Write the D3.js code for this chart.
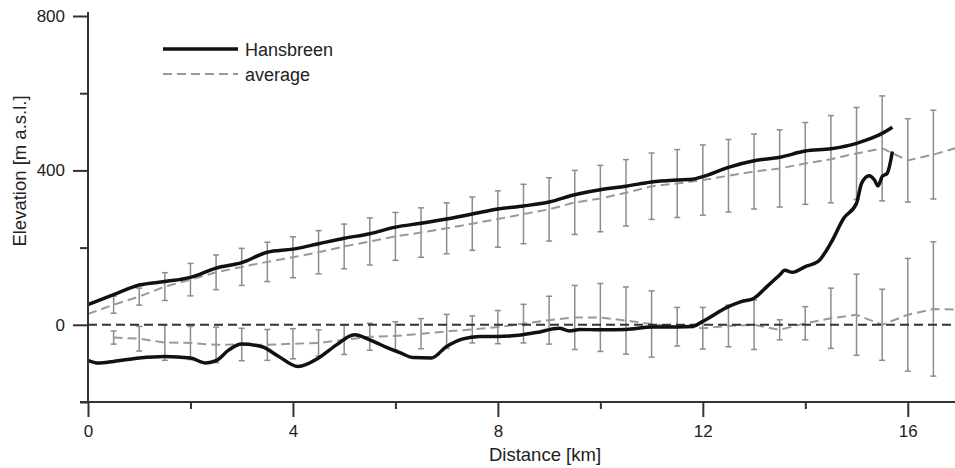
<!DOCTYPE html>
<html>
<head>
<meta charset="utf-8">
<script src="https://cdn.jsdelivr.net/npm/d3@7"></script>
<style>
  body { margin: 0; background: #fff; }
  text { font-family: "Liberation Sans", Arial, sans-serif; fill: #222; }
</style>
</head>
<body>
<svg id="chart"></svg>
<script>
// Hansbreen surface profile [km, m a.s.l.]
const surfaceKm = [0, 0.5, 1, 1.5, 2, 2.5, 3, 3.5, 4, 4.5, 5, 5.5, 6, 6.5, 7, 7.5, 8, 8.5, 9, 9.5, 10, 10.5, 11, 11.5, 11.8, 12, 12.5, 13, 13.5, 14, 14.5, 15, 15.2, 15.5, 15.7];
const surfaceElev = [52, 78, 103, 112, 123, 147, 161, 188, 196, 210, 224, 236, 253, 263, 274, 287, 300, 308, 318, 337, 350, 359, 370, 375, 377, 384, 408, 425, 434, 450, 456, 470, 479, 496, 512];

// Hansbreen bed profile
const bedKm = [0, 0.2, 0.5, 1, 1.5, 2, 2.3, 2.5, 2.75, 3, 3.4, 3.7, 4.1, 4.5, 4.85, 5.2, 5.5, 5.85, 6.1, 6.35, 6.7, 7, 7.3, 7.65, 8, 8.35, 8.75, 9.2, 9.4, 9.6, 10, 10.5, 11, 11.5, 11.8, 12, 12.5, 12.75, 13, 13.25, 13.5, 13.6, 13.75, 14, 14.25, 14.5, 14.75, 15, 15.1, 15.25, 15.35, 15.42, 15.5, 15.6, 15.7];
const bedElev = [-92, -99, -95, -86, -82, -86, -99, -93, -65, -50, -57, -80, -108, -86, -52, -26, -39, -60, -73, -85, -86, -56, -37, -30, -30, -28, -20, -9, -16, -12, -13, -12, -6, -6, -4, 9, 47, 60, 69, 99, 129, 141, 136, 151, 164, 212, 276, 315, 367, 386, 375, 360, 384, 393, 449];

// average surface of other glaciers (0 .. 17 km, every 0.5 km)
const avgTopKm = d3.range(0, 17.01, 0.5);
const avgTop = [28, 52, 73, 99, 117, 136, 150, 163, 175, 188, 203, 216, 229, 239, 250, 262, 274, 287, 299, 317, 327, 342, 359, 366, 375, 386, 397, 405, 418, 429, 444, 457, 426, 441, 460];
// standard deviation of the surface (0.5 .. 16.5 km)
const sdTop = [22, 22, 36, 42, 45, 48, 51, 53, 56, 58, 61, 62, 64, 66, 69, 73, 77, 82, 83, 86, 86, 86, 88, 91, 94, 97, 100, 106, 113, 119, 136, 108, 115];

// average bed (0.5 .. 17 km)
const avgBedKm = d3.range(0.5, 17.01, 0.5);
const avgBed = [-33, -36, -46, -47, -52, -51, -52, -49, -47, -39, -31, -29, -23, -17, -12, -6, 3, 12, 19, 19, 11, 2, -5, -9, -3, 0, -13, 4, 17, 26, 0, 26, 41, 39];
const sdBed = [17, 32, 46, 43, 46, 42, 40, 39, 34, 38, 35, 37, 39, 44, 35, 43, 50, 62, 83, 88, 87, 86, 50, 54, 54, 64, 26, 43, 78, 105, 92, 146, 174];

const xMajor = [0, 4, 8, 12, 16];
const xMinor = [2, 6, 10, 14];
const yMajor = [0, 400, 800];
const yMinor = [-200, 200, 600];

const W = 955, H = 468;
const svg = d3.select("#chart").attr("width", W).attr("height", H);

const x = d3.scaleLinear().domain([0, 17]).range([88, 959]);
const y = d3.scaleLinear().domain([-200, 800]).range([402, 16]);

// error bars
function errorBars(kms, means, sds) {
    const g = svg.append("g").attr("stroke", "#8c8c8c").attr("stroke-width", 1.5);
    sds.forEach((s, i) => {
        const km = kms[i], m = means[i];
        const px = x(km);
        g.append("line").attr("x1", px).attr("x2", px).attr("y1", y(m - s)).attr("y2", y(m + s));
        g.append("line").attr("x1", px - 3).attr("x2", px + 3).attr("y1", y(m - s)).attr("y2", y(m - s));
        g.append("line").attr("x1", px - 3).attr("x2", px + 3).attr("y1", y(m + s)).attr("y2", y(m + s));
    });
}
// sd arrays start at 0.5 km
errorBars(avgTopKm.slice(1), avgTop.slice(1), sdTop);
errorBars(avgBedKm, avgBed, sdBed);

const line = d3.line().x(d => x(d[0])).y(d => y(d[1]));
const smooth = d3.line().x(d => x(d[0])).y(d => y(d[1])).curve(d3.curveMonotoneX);

// average dashed lines
svg.append("path")
    .attr("d", line(avgTopKm.map((k, i) => [k, avgTop[i]])))
    .attr("fill", "none").attr("stroke", "#999").attr("stroke-width", 2)
    .attr("stroke-dasharray", "9,5");
svg.append("path")
    .attr("d", line(avgBedKm.map((k, i) => [k, avgBed[i]])))
    .attr("fill", "none").attr("stroke", "#999").attr("stroke-width", 2)
    .attr("stroke-dasharray", "9,5");

// zero line
svg.append("line")
    .attr("x1", x(0)).attr("x2", W).attr("y1", y(0)).attr("y2", y(0))
    .attr("stroke", "#333").attr("stroke-width", 2).attr("stroke-dasharray", "9,5");

// Hansbreen
svg.append("path")
    .attr("d", smooth(surfaceKm.map((k, i) => [k, surfaceElev[i]])))
    .attr("fill", "none").attr("stroke", "#111").attr("stroke-width", 3.5)
    .attr("stroke-linejoin", "round");
svg.append("path")
    .attr("d", smooth(bedKm.map((k, i) => [k, bedElev[i]])))
    .attr("fill", "none").attr("stroke", "#111").attr("stroke-width", 3.5)
    .attr("stroke-linejoin", "round");

// axes
const axisColor = "#333";
function styleAxis(g) {
    g.select(".domain").remove();
    g.selectAll("line").attr("stroke", axisColor).attr("stroke-width", 2);
    g.selectAll("text").style("font-size", "17px").attr("fill", "#222");
}

svg.append("g").attr("transform", `translate(0,${y(-200)})`)
    .call(d3.axisBottom(x).tickValues(xMajor).tickSize(15).tickPadding(8).tickFormat(d3.format("d")))
    .call(styleAxis);
svg.append("g").attr("transform", `translate(0,${y(-200)})`)
    .call(d3.axisBottom(x).tickValues(xMinor).tickSize(7).tickFormat(""))
    .call(styleAxis);
svg.append("g").attr("transform", `translate(${x(0)},0)`)
    .call(d3.axisLeft(y).tickValues(yMajor).tickSize(15).tickPadding(8).tickFormat(d3.format("d")))
    .call(styleAxis);
svg.append("g").attr("transform", `translate(${x(0)},0)`)
    .call(d3.axisLeft(y).tickValues(yMinor).tickSize(8).tickFormat(""))
    .call(styleAxis);

// axis lines
svg.append("line").attr("x1", x(0) - 8).attr("x2", W).attr("y1", y(-200)).attr("y2", y(-200))
    .attr("stroke", axisColor).attr("stroke-width", 2);
svg.append("line").attr("x1", x(0)).attr("x2", x(0)).attr("y1", 12).attr("y2", y(-200))
    .attr("stroke", axisColor).attr("stroke-width", 2);

// axis titles
svg.append("text").attr("x", 545).attr("y", 461).attr("text-anchor", "middle")
    .style("font-size", "18.5px").text("Distance [km]");
svg.append("text").attr("transform", "translate(26,171) rotate(-90)").attr("text-anchor", "middle")
    .style("font-size", "18.5px").text("Elevation [m a.s.l.]");

// legend
const legend = svg.append("g");
legend.append("line").attr("x1", 163).attr("x2", 238).attr("y1", 49).attr("y2", 49)
    .attr("stroke", "#111").attr("stroke-width", 3.5);
legend.append("text").attr("x", 245).attr("y", 56).style("font-size", "18px").text("Hansbreen");
legend.append("line").attr("x1", 163).attr("x2", 238).attr("y1", 74).attr("y2", 74)
    .attr("stroke", "#999").attr("stroke-width", 2).attr("stroke-dasharray", "9,5");
legend.append("text").attr("x", 245).attr("y", 81).style("font-size", "18px").text("average");
</script>
</body>
</html>
